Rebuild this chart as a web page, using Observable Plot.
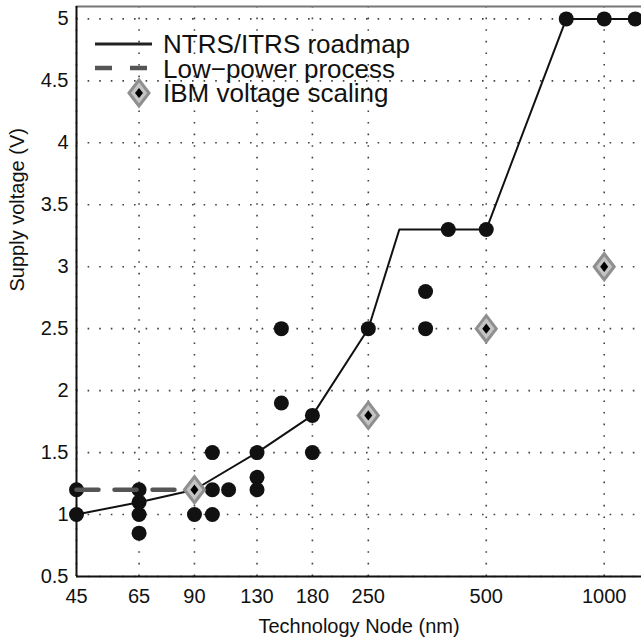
<!DOCTYPE html>
<html><head><meta charset="utf-8">
<script src="https://cdn.jsdelivr.net/npm/d3@7"></script>
<script src="https://cdn.jsdelivr.net/npm/@observablehq/plot@0.6"></script>
<style>
body{margin:0;background:#fff;}
#wrap{position:relative;width:641px;height:638px;overflow:hidden;font-family:"Liberation Sans",Arial,sans-serif;}
#legend{position:absolute;left:0;top:0;}
</style></head><body><div id="wrap"></div>
<script>
const xTicks = [45, 65, 90, 130, 180, 250, 500, 1000];
const yTicks = [0.5, 1, 1.5, 2, 2.5, 3, 3.5, 4, 4.5, 5];
const roadmapNode = [45, 65, 90, 130, 180, 250, 300, 400, 500, 800, 1000, 1200];
const roadmapVolt = [1.0, 1.1, 1.2, 1.5, 1.8, 2.5, 3.3, 3.3, 3.3, 5, 5, 5];
const lowPowerNode = [45, 90];
const lowPowerVolt = [1.2, 1.2];
const ibmNode = [90, 250, 500, 1000];
const ibmVolt = [1.2, 1.8, 2.5, 3.0];
const dotNode = [45, 45, 65, 65, 65, 65, 90, 100, 100, 100, 110, 130, 130, 130, 150, 150, 180, 180, 250, 350, 350, 400, 500, 800, 1000, 1200];
const dotVolt = [1.0, 1.2, 1.2, 1.1, 1.0, 0.85, 1.0, 1.5, 1.2, 1.0, 1.2, 1.5, 1.3, 1.2, 2.5, 1.9, 1.8, 1.5, 2.5, 2.8, 2.5, 3.3, 3.3, 5, 5, 5];
const legendLabels = ["NTRS/ITRS roadmap", "Low\u2212power process", "IBM voltage scaling"];
const xLabel = "Technology Node (nm)";
const yLabel = "Supply voltage (V)";

const roadmap = roadmapNode.map((x, i) => ({x, y: roadmapVolt[i]}));
const lowPower = lowPowerNode.map((x, i) => ({x, y: lowPowerVolt[i]}));
const ibm = ibmNode.map((x, i) => ({x, y: ibmVolt[i]}));
const dots = dotNode.map((x, i) => ({x, y: dotVolt[i]}));

const diamond = {draw(ctx, size) {
  const r = Math.sqrt(size / Math.PI);
  ctx.moveTo(0, -1.3 * r); ctx.lineTo(r, 0); ctx.lineTo(0, 1.3 * r); ctx.lineTo(-r, 0); ctx.closePath();
}};

const font = "'Liberation Sans', Arial, sans-serif";
const gridStyle = {stroke: "#222", strokeOpacity: 0.85, strokeWidth: 1.6, strokeDasharray: "1.6,10"};

const chart = Plot.plot({
  width: 641, height: 638,
  marginLeft: 76, marginRight: 0, marginTop: 6, marginBottom: 62,
  style: {fontFamily: font, color: "#111", background: "#fff", overflow: "visible"},
  x: {type: "log", domain: [45, 1245], axis: null},
  y: {domain: [0.5, 5.1], axis: null},
  marks: [
    Plot.ruleX(xTicks, {x: d => d, ...gridStyle}),
    Plot.ruleY(yTicks, {y: d => d, ...gridStyle}),
    Plot.ruleY([5.1], {stroke: "#777", strokeWidth: 2}),
    Plot.ruleX([45], {stroke: "#111", strokeWidth: 2}),
    Plot.ruleY([0.5], {stroke: "#111", strokeWidth: 2}),
    Plot.text(xTicks, {x: d => d, text: d => String(d), frameAnchor: "bottom", lineAnchor: "top", dy: 12, fontSize: 20, fill: "#111"}),
    Plot.text(yTicks, {y: d => d, text: d => String(d), frameAnchor: "left", textAnchor: "end", dx: -8, fontSize: 20, fill: "#111"}),
    Plot.text([xLabel], {text: d => d, frameAnchor: "bottom", lineAnchor: "bottom", dy: 56, fontSize: 20, fill: "#111"}),
    Plot.text([yLabel], {text: d => d, frameAnchor: "left", rotate: -90, dx: -59, fontSize: 20, fill: "#111"}),
    Plot.dot(dots, {x: "x", y: "y", r: 7.5, fill: "#111", stroke: null}),
    Plot.line(lowPower, {x: "x", y: "y", stroke: "#555", strokeWidth: 4.5, strokeDasharray: "22,16"}),
    Plot.line(roadmap, {x: "x", y: "y", stroke: "#111", strokeWidth: 2}),
    Plot.dot(ibm, {x: "x", y: "y", symbol: diamond, r: 10, fill: "#c4c4c4", stroke: "#8f8f8f", strokeWidth: 3}),
    Plot.dot(ibm, {x: "x", y: "y", symbol: diamond, r: 4, fill: "#000", stroke: null})
  ]
});
const wrap = document.getElementById("wrap");
wrap.appendChild(chart);

const ns = "http://www.w3.org/2000/svg";
const leg = document.createElementNS(ns, "svg");
leg.setAttribute("id", "legend");
leg.setAttribute("width", 641); leg.setAttribute("height", 120);
const baselines = [53, 78, 102];
const rowsY = [44, 68, 93];
leg.innerHTML = `
  <line x1="95" x2="152" y1="${rowsY[0]}" y2="${rowsY[0]}" stroke="#222" stroke-width="3"/>
  <line x1="95" x2="152" y1="${rowsY[1]}" y2="${rowsY[1]}" stroke="#555" stroke-width="4.5" stroke-dasharray="17,18"/>
  <path d="M139,${rowsY[2]-13} L149,${rowsY[2]} L139,${rowsY[2]+13} L129,${rowsY[2]} Z" fill="#c4c4c4" stroke="#8f8f8f" stroke-width="3"/>
  <path d="M139,${rowsY[2]-5} L143,${rowsY[2]} L139,${rowsY[2]+5} L135,${rowsY[2]} Z" fill="#000"/>
` + legendLabels.map((t, i) => `<text x="163" y="${baselines[i]}" font-size="26" fill="#111" font-family="${font.replace(/'/g, "&apos;")}">${t}</text>`).join("");
wrap.appendChild(leg);
</script></body></html>
